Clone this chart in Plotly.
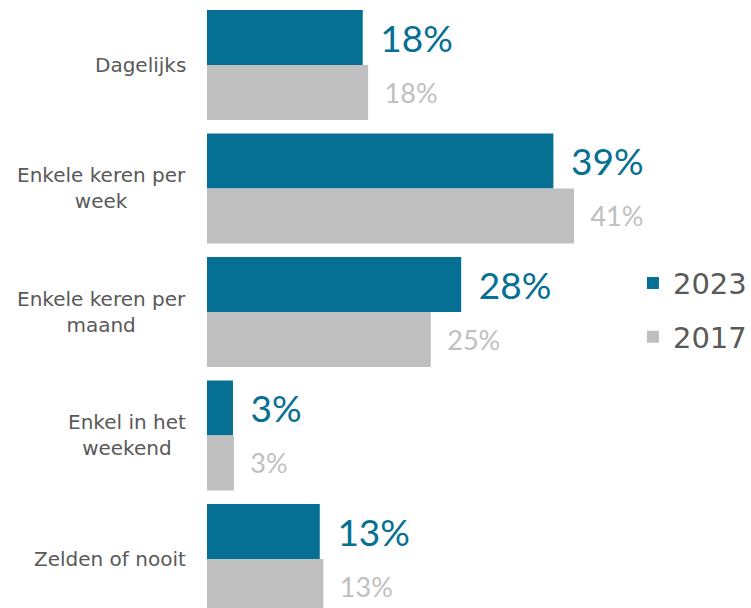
import plotly.graph_objects as go

# categories top to bottom
categories = [
    "Dagelijks",
    "Enkele keren per<br>week",
    "Enkele keren per<br>maand",
    "Enkel in het<br>weekend",
    "Zelden of nooit",
]
values_2023 = [17.4, 38.7, 28.4, 2.9, 12.6]
values_2017 = [18.0, 41.0, 25.0, 3.0, 13.0]
labels_2023 = ["18%", "39%", "28%", "3%", "13%"]
labels_2017 = ["18%", "41%", "25%", "3%", "13%"]

TEAL = "#067094"
GREY = "#BFBFBF"
TEXT = "#595959"

# small unicode spaces push the outside labels away from the bar ends
GAP_BIG = "\u2004\u200a"
GAP_SMALL = "\u2002"

fig = go.Figure()
fig.add_trace(go.Bar(
    y=categories, x=values_2023, orientation="h", name="2023",
    legendgroup="a",
    marker=dict(color=TEAL, line=dict(width=0)),
    text=[GAP_BIG + t for t in labels_2023],
    textposition="outside", constraintext="none", cliponaxis=False,
    textfont=dict(family="Lato, DejaVu Sans, sans-serif", size=37, color=TEAL),
    hoverinfo="skip",
))
fig.add_trace(go.Bar(
    y=categories, x=values_2017, orientation="h", name="2017",
    legendgroup="b",
    marker=dict(color=GREY, line=dict(width=0)),
    text=[GAP_SMALL + t for t in labels_2017],
    textposition="outside", constraintext="none", cliponaxis=False,
    textfont=dict(family="Lato, DejaVu Sans, sans-serif", size=27, color=GREY),
    hoverinfo="skip",
))

# category labels, lines centred like the original
for cat in categories:
    fig.add_annotation(
        x=0, y=cat, xref="x", yref="y", text=cat,
        xanchor="right", yanchor="middle", xshift=-19, align="center",
        showarrow=False,
        font=dict(family="DejaVu Sans, sans-serif", size=20, color=TEXT),
    )

fig.update_layout(
    width=751, height=608,
    margin=dict(l=207, r=0, t=0, b=0, autoexpand=False),
    plot_bgcolor="white", paper_bgcolor="white",
    barmode="group", bargap=0.109, bargroupgap=0,
    showlegend=True,
    legend=dict(
        x=0.783, xanchor="left", y=0.49, yanchor="middle",
        font=dict(family="DejaVu Sans, sans-serif", size=29, color=TEXT),
        bgcolor="rgba(0,0,0,0)", tracegroupgap=13,
    ),
)
fig.update_xaxes(range=[0, 60.78], visible=False, fixedrange=True)
fig.update_yaxes(range=[4.397, -0.526], showticklabels=False, showgrid=False,
                 zeroline=False, showline=False, ticks="", fixedrange=True)

# drop the default page margin so the figure sits at the window's corner
fig.write_html("out.html", config={"displayModeBar": False},
               post_script="document.body.style.margin='0px';")
